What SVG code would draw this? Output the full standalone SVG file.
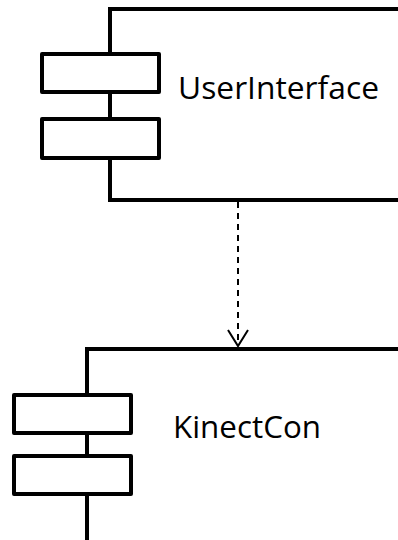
<svg xmlns="http://www.w3.org/2000/svg" width="398" height="540" viewBox="0 0 398 540">
  <style>
    .body { fill: none; stroke: #000; stroke-width: 4; stroke-linejoin: miter; }
    .port { fill: #fff; stroke: #000; stroke-width: 4; stroke-linejoin: round; }
    .label { font-family: "Open Sans", "Liberation Sans", sans-serif; font-size: 31px; fill: #000; }
    .dep { fill: none; stroke: #000; stroke-width: 2; }
  </style>
  <defs>
    <!-- open V arrowhead, tip pointing along +x -->
    <marker id="open-arrow" markerWidth="20" markerHeight="24" refX="17" refY="11" markerUnits="userSpaceOnUse" orient="auto" viewBox="0 0 20 22">
      <path d="M1,1 L17,11 L1,21" fill="none" stroke="#000" stroke-width="2"/>
    </marker>
  </defs>
  <rect width="398" height="540" fill="#fff"/>

  <g id="UserInterface">
    <path class="body" d="M400,9 H110 V200 H400"/>
    <rect class="port" x="42" y="54" width="117" height="38"/>
    <rect class="port" x="42" y="119" width="117" height="39"/>
    <text class="label" x="178" y="99" textLength="201" lengthAdjust="spacingAndGlyphs">UserInterface</text>
  </g>

  <g id="KinectCon">
    <path class="body" d="M400,349 H87 V545"/>
    <rect class="port" x="14" y="395" width="117" height="38"/>
    <rect class="port" x="14" y="456" width="117" height="38"/>
    <text class="label" x="173" y="438" textLength="148" lengthAdjust="spacingAndGlyphs">KinectCon</text>
  </g>

  <g id="connectors">
    <line class="dep" x1="238" y1="202" x2="238" y2="346" stroke-dasharray="6,5" marker-end="url(#open-arrow)"/>
  </g>
</svg>
